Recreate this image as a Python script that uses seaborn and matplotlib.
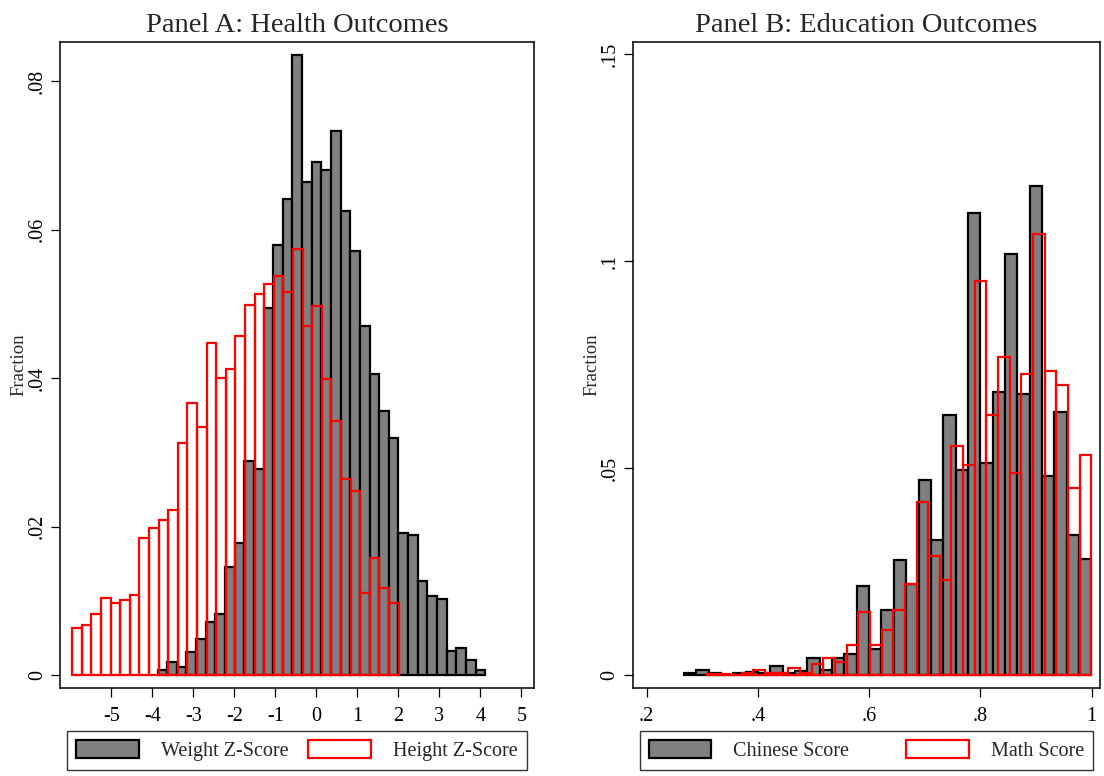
import matplotlib
matplotlib.use("Agg")
import matplotlib.pyplot as plt
from matplotlib.patches import Patch
from matplotlib.ticker import FuncFormatter
import numpy as np
import pandas as pd
import seaborn as sns

# Panel A: fraction per bin, equal-width bins
WEIGHT_START, WEIGHT_WIDTH = -3.87, 0.235
weight_frac = [0.0007, 0.0018, 0.0011, 0.0031, 0.0048, 0.0071, 0.0082, 0.0145,
               0.0178, 0.0289, 0.0277, 0.0494, 0.0580, 0.0641, 0.0836, 0.0664,
               0.0691, 0.0681, 0.0733, 0.0625, 0.0571, 0.0470, 0.0406, 0.0356,
               0.0320, 0.0191, 0.0188, 0.0127, 0.0107, 0.0103, 0.0033, 0.0036,
               0.0020, 0.0007]
HEIGHT_START, HEIGHT_WIDTH = -5.95, 0.234
height_frac = [0.0064, 0.0067, 0.0082, 0.0104, 0.0097, 0.0101, 0.0108, 0.0185,
               0.0198, 0.0209, 0.0223, 0.0313, 0.0366, 0.0334, 0.0448, 0.0400,
               0.0413, 0.0457, 0.0498, 0.0514, 0.0527, 0.0537, 0.0516, 0.0574,
               0.0470, 0.0497, 0.0399, 0.0342, 0.0264, 0.0248, 0.0110, 0.0158,
               0.0117, 0.0097]

# Panel B
CHINESE_START, CHINESE_WIDTH = 0.2667, 0.02222
chinese_frac = [0.0004, 0.0013, 0.0005, 0.0, 0.0004, 0.0007, 0.0004, 0.0022,
                0.0004, 0.0009, 0.0040, 0.0013, 0.0041, 0.0051, 0.0216, 0.0064,
                0.0157, 0.0278, 0.0221, 0.0471, 0.0326, 0.0628, 0.0495, 0.1115,
                0.0511, 0.0684, 0.1017, 0.0679, 0.1180, 0.0481, 0.0635, 0.0338,
                0.0280]
MATH_START, MATH_WIDTH = 0.3078, 0.02097
math_frac = [0.0003, 0.0003, 0.0, 0.0004, 0.0013, 0.0006, 0.0006, 0.0016,
             0.0005, 0.0027, 0.0040, 0.0031, 0.0072, 0.0153, 0.0072, 0.0109,
             0.0157, 0.0221, 0.0417, 0.0288, 0.0229, 0.0553, 0.0508, 0.0952,
             0.0628, 0.0769, 0.0489, 0.0727, 0.1065, 0.0735, 0.0700, 0.0452,
             0.0531]

GRAY = "#808080"


def stata_fmt(v, _pos=None):
    if abs(v) < 1e-12:
        return "0"
    s = f"{v:g}"
    return s.replace("0.", ".", 1) if s.startswith(("0.", "-0.")) else s


def draw_hist(ax, start, width, frac, filled):
    e = start + width * np.arange(len(frac) + 1)
    df = pd.DataFrame({"x": (e[:-1] + e[1:]) / 2, "w": frac})
    if filled:
        sns.histplot(data=df, x="x", weights="w", bins=e.tolist(), ax=ax,
                     color=GRAY, edgecolor="black", linewidth=1.6, alpha=1,
                     fill=True)
    else:
        sns.histplot(data=df, x="x", weights="w", bins=e.tolist(), ax=ax,
                     color="red", linewidth=1.6, fill=False)


def style_axes(ax, title, xticks, yticks, xlim, ylim, labels):
    ax.set_xlim(*xlim)
    ax.set_ylim(*ylim)
    ax.set_xticks(list(xticks))
    ax.set_yticks(yticks)
    ax.xaxis.set_major_formatter(FuncFormatter(stata_fmt))
    ax.yaxis.set_major_formatter(FuncFormatter(stata_fmt))
    ax.tick_params(axis="both", direction="out", length=6.5, width=0.9,
                   labelsize=14.5, colors="black", bottom=True, left=True)
    ax.tick_params(axis="x", pad=7)
    ax.tick_params(axis="y", pad=3)
    for lab in ax.get_yticklabels():
        lab.set_rotation(90)
        lab.set_va("center")
    ax.set_xlabel("")
    ax.set_ylabel("Fraction", fontsize=13.5, labelpad=0)
    ax.set_title(title, fontsize=20.5, pad=7)
    for sp in ax.spines.values():
        sp.set_visible(True)
        sp.set_color("black")
        sp.set_linewidth(1.1)
    handles = [Patch(facecolor=GRAY, edgecolor="black", linewidth=1.6),
               Patch(facecolor="white", edgecolor="red", linewidth=1.6)]
    leg = ax.legend(handles, labels, loc="lower left", ncol=2, mode="expand",
                    bbox_to_anchor=(0.015, -0.127, 0.97, 0.06), fontsize=14.5,
                    handlelength=3.1, handleheight=1.0, handletextpad=1.1,
                    columnspacing=1.4, borderpad=0.45, fancybox=False,
                    frameon=True, borderaxespad=0)
    leg.get_frame().set_edgecolor("black")
    leg.get_frame().set_linewidth(1.0)


sns.set_theme(style="white")
plt.rcParams["font.family"] = ["Liberation Serif", "DejaVu Serif"]
plt.rcParams["axes.unicode_minus"] = False

fig = plt.figure(figsize=(11.04, 7.76), dpi=100)
axA = fig.add_axes([0.0543, 0.1134, 0.4294, 0.8325])
axB = fig.add_axes([0.5731, 0.1134, 0.4233, 0.8325])

draw_hist(axA, WEIGHT_START, WEIGHT_WIDTH, weight_frac, True)
draw_hist(axA, HEIGHT_START, HEIGHT_WIDTH, height_frac, False)
style_axes(axA, "Panel A: Health Outcomes", range(-5, 6),
           [0, 0.02, 0.04, 0.06, 0.08], (-6.25, 5.31), (-0.00175, 0.0853),
           ["Weight Z-Score", "Height Z-Score"])

draw_hist(axB, CHINESE_START, CHINESE_WIDTH, chinese_frac, True)
draw_hist(axB, MATH_START, MATH_WIDTH, math_frac, False)
style_axes(axB, "Panel B: Education Outcomes", [0.2, 0.4, 0.6, 0.8, 1.0],
           [0, 0.05, 0.1, 0.15], (0.1748, 1.0153), (-0.00314, 0.1529),
           ["Chinese Score", "Math Score"])

fig.savefig("out.png", dpi=100)
